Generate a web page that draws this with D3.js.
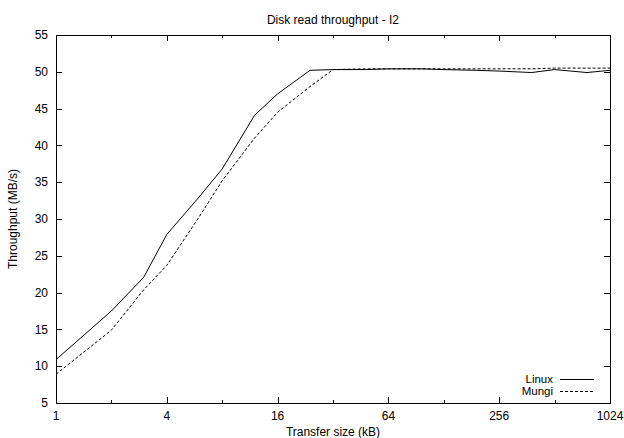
<!DOCTYPE html>
<html>
<head>
<meta charset="utf-8">
<script src="https://cdn.jsdelivr.net/npm/d3@7"></script>
<style>
  body { margin: 0; background: #fff; }
  svg text { font-family: "Liberation Sans", Arial, sans-serif; font-size: 12px; fill: #000; }
  svg text.leg { font-size: 11.5px; }
</style>
</head>
<body>
<div id="chart"></div>
<script>
// transfer sizes (kB)
var sizes = [1, 2, 3, 4, 6, 8, 12, 16, 24, 32, 48, 64, 96, 128, 192, 256, 384, 512, 768, 1024];

// throughput MB/s
var linux = [10.9, 17.5, 22.1, 27.9, 33.0, 36.8, 44.1, 47.0, 50.2, 50.3, 50.3, 50.4, 50.4, 50.3, 50.2, 50.1, 49.9, 50.3, 49.9, 50.2];
var mungi = [8.9, 14.9, 20.4, 23.7, 30.3, 35.2, 41.0, 44.5, 48.0, 50.3, 50.4, 50.4, 50.4, 50.4, 50.4, 50.4, 50.4, 50.5, 50.5, 50.5];

var xTicks = [1, 2, 4, 8, 16, 32, 64, 128, 256, 512, 1024];
var xLabels = [1, 4, 16, 64, 256, 1024];
var yTicks = [5, 10, 15, 20, 25, 30, 35, 40, 45, 50, 55];

var width = 624, height = 438;
var margin = {top: 35, right: 14, bottom: 35, left: 56};
var w = width - margin.left - margin.right;
var h = height - margin.top - margin.bottom;

var svg = d3.select("#chart").append("svg")
    .attr("width", width)
    .attr("height", height);

var g = svg.append("g")
    .attr("transform", "translate(" + margin.left + "," + margin.top + ")");

var x = d3.scaleLog().base(2).domain([1, 1024]).range([0, w]);
var y = d3.scaleLinear().domain([5, 55]).range([h, 0]);

/* ticks, inward on both sides like gnuplot */
g.selectAll(".ytick")
    .data(yTicks)
    .enter().append("path")
    .attr("class", "ytick")
    .attr("d", function(d){
        var yy = Math.round(y(d)) + 0.5;
        return "M0," + yy + "h6M" + w + "," + yy + "h-6";
    })
    .attr("stroke", "#000");

g.selectAll(".xtick")
    .data(xTicks)
    .enter().append("path")
    .attr("class", "xtick")
    .attr("d", function(d){
        var xx = Math.round(x(d)) + 0.5;
        var len = xLabels.indexOf(d) >= 0 ? 6 : 3;
        return "M" + xx + "," + h + "v-" + len + "M" + xx + ",0v" + len;
    })
    .attr("stroke", "#000");

g.selectAll(".ylabel")
    .data(yTicks)
    .enter().append("text")
    .attr("x", -8)
    .attr("y", function(d){ return y(d); })
    .attr("dy", "0.35em")
    .attr("text-anchor", "end")
    .text(function(d){ return d; });

g.selectAll(".xlabel")
    .data(xLabels)
    .enter().append("text")
    .attr("x", function(d){ return x(d); })
    .attr("y", h + 17)
    .attr("text-anchor", "middle")
    .text(function(d){ return d; });

/* frame */
g.append("rect")
    .attr("x", 0.5).attr("y", 0.5)
    .attr("width", w).attr("height", h)
    .attr("fill", "none")
    .attr("stroke", "#000");

/* lines */
var line = d3.line()
    .x(function(d){ return x(d[0]); })
    .y(function(d){ return y(d[1]); });

g.append("path")
    .datum(d3.zip(sizes, linux))
    .attr("d", line)
    .attr("fill", "none")
    .attr("stroke", "#000")
    .attr("stroke-width", 1);

g.append("path")
    .datum(d3.zip(sizes, mungi))
    .attr("d", line)
    .attr("fill", "none")
    .attr("stroke", "#000")
    .attr("stroke-width", 1)
    .attr("stroke-dasharray", "3,2");

/* legend */
var legend = [{name: "Linux", dash: null}, {name: "Mungi", dash: "3,2"}];
var lg = g.selectAll(".legend")
    .data(legend)
    .enter().append("g")
    .attr("transform", function(d, i){ return "translate(0," + (h - 24 + i * 12) + ")"; });

lg.append("text")
    .attr("class", "leg")
    .attr("x", w - 57)
    .attr("dy", "0.35em")
    .attr("text-anchor", "end")
    .text(function(d){ return d.name; });

lg.append("line")
    .attr("x1", w - 50).attr("x2", w - 16)
    .attr("y1", 0.5).attr("y2", 0.5)
    .attr("stroke", "#000")
    .attr("stroke-dasharray", function(d){ return d.dash; });

/* titles */
svg.append("text")
    .attr("x", margin.left + w / 2)
    .attr("y", 24)
    .attr("text-anchor", "middle")
    .text("Disk read throughput - I2");

svg.append("text")
    .attr("x", margin.left + w / 2)
    .attr("y", 436)
    .attr("text-anchor", "middle")
    .text("Transfer size (kB)");

svg.append("text")
    .attr("transform", "translate(17," + (margin.top + h / 2) + ") rotate(-90)")
    .attr("text-anchor", "middle")
    .text("Throughput (MB/s)");
</script>
</body>
</html>
